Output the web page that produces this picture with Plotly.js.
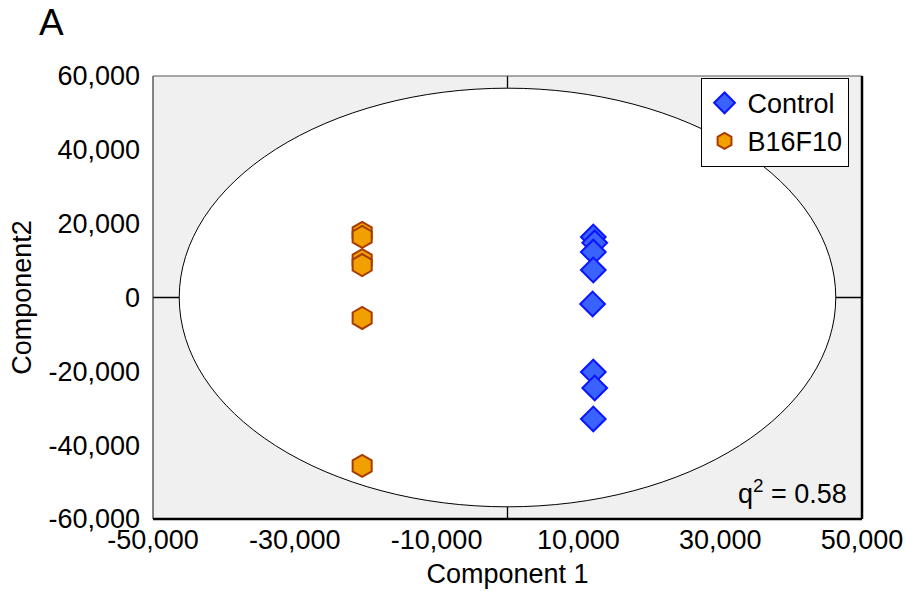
<!DOCTYPE html>
<html>
<head>
<meta charset="utf-8">
<script src="https://cdn.plot.ly/plotly-3.0.1.min.js"></script>
<style>html,body{margin:0;padding:0;background:#fff;}#chart{width:906px;height:591px;}</style>
</head>
<body>
<div id="chart"></div>
<script>
// Data
const controlX = [12100, 12300, 12100, 12100, 12000, 12100, 12300, 12100];
const controlY = [16400, 14800, 12300, 7450, -1750, -20200, -24500, -32900];
const b16X = [-20500, -20500, -20500, -20500, -20500, -20500];
const b16Y = [17500, 16400, 10150, 8800, -5550, -45600];
const xTickVals = [-50000, -30000, -10000, 10000, 30000, 50000];
const xTickText = ['-50,000', '-30,000', '-10,000', '10,000', '30,000', '50,000'];
const yTickVals = [-60000, -40000, -20000, 0, 20000, 40000, 60000];
const yTickText = ['-60,000', '-40,000', '-20,000', '0', '20,000', '40,000', '60,000'];
const ellipseRx = 46300;
const ellipseRy = 56700;
const q2 = 0.58;

const fam = 'Liberation Sans, Arial, sans-serif';
const font = {family: fam, size: 27, color: '#000'};

const traces = [
  {x: controlX, y: controlY, mode: 'markers', type: 'scatter', name: 'Control',
   marker: {symbol: 'diamond', size: 19, color: '#3a62ff', line: {color: '#0a14ff', width: 2}}},
  {x: b16X, y: b16Y, mode: 'markers', type: 'scatter', name: 'B16F10',
   marker: {symbol: 'hexagon', size: 22, color: '#f2a000', line: {color: '#a63c00', width: 2}}}
];

const layout = {
  width: 906, height: 591,
  margin: {l: 153, r: 44, t: 76, b: 72},
  paper_bgcolor: '#ffffff',
  plot_bgcolor: '#f0f0f0',
  font: font,
  showlegend: true,
  legend: {x: 0.981, y: 0.996, xanchor: 'right', yanchor: 'top', bgcolor: '#ffffff',
           bordercolor: '#000', borderwidth: 1, font: font, itemsizing: 'trace',
           tracegroupgap: 0, itemwidth: 36},
  xaxis: {range: [-50000, 50000], tickvals: xTickVals, ticktext: xTickText, showgrid: false,
          zeroline: false, ticks: '', showline: false, tickfont: font, ticklabelstandoff: 2,
          title: {text: 'Component 1', font: font, standoff: 10}},
  yaxis: {range: [-60000, 60000], tickvals: yTickVals, ticktext: yTickText, showgrid: false,
          zeroline: false, ticks: '', showline: false, tickfont: font, ticklabelstandoff: 12,
          title: {text: 'Component2', font: font, standoff: 8}},
  shapes: [
    {type: 'circle', xref: 'x', yref: 'y', x0: -ellipseRx, x1: ellipseRx, y0: -ellipseRy, y1: ellipseRy,
     fillcolor: '#ffffff', line: {color: '#000', width: 1}, layer: 'below'},
    {type: 'line', xref: 'x', yref: 'paper', x0: 0, x1: 0, y0: 0, y1: 1, line: {color: '#000', width: 1.3}, layer: 'below'},
    {type: 'line', xref: 'paper', yref: 'y', x0: 0, x1: 1, y0: 0, y1: 0, line: {color: '#000', width: 1.3}, layer: 'below'},
    {type: 'line', xref: 'paper', yref: 'paper', x0: 0, x1: 0, y0: 0, y1: 1, line: {color: '#333', width: 1.2}},
    {type: 'line', xref: 'paper', yref: 'paper', x0: 0, x1: 1, y0: 1, y1: 1, line: {color: '#555', width: 1}},
    {type: 'line', xref: 'paper', yref: 'paper', x0: 1, x1: 1, y0: 0, y1: 1, line: {color: '#000', width: 2.5}},
    {type: 'line', xref: 'paper', yref: 'paper', x0: 0, x1: 1, y0: 0, y1: 0, line: {color: '#000', width: 2.5}}
  ],
  annotations: [
    {text: 'A', xref: 'paper', yref: 'paper', x: -0.163, y: 1.12, xanchor: 'left', yanchor: 'middle',
     showarrow: false, font: {family: fam, size: 37, color: '#000'}},
    {text: 'q<sup>2</sup> = ' + q2.toFixed(2), xref: 'paper', yref: 'paper', x: 0.982, y: 0.06,
     xanchor: 'right', yanchor: 'middle', showarrow: false, font: font}
  ]
};

Plotly.newPlot('chart', traces, layout, {displayModeBar: false, staticPlot: true});
</script>
</body>
</html>
